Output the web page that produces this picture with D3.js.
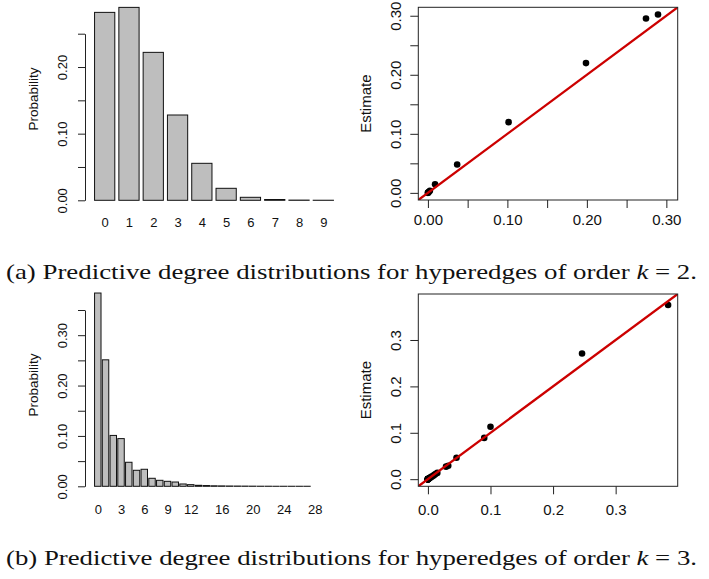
<!DOCTYPE html>
<html>
<script src="https://d3js.org/d3.v7.min.js"></script>
<style>
    body { margin: 0; background: #fff; }
    svg { display: block; }
    .rfont { font-family: "Liberation Sans", Arial, sans-serif; fill: #111; }
    .cap { font-family: "Liberation Serif", "Times New Roman", serif; font-size: 22px; fill: #111; }
</style>
<body>
<svg width="709" height="579"></svg>
<script>
    // k = 2 : predictive degree distribution (bars) and estimate vs truth (points)
    const degreesK2 = [0, 1, 2, 3, 4, 5, 6, 7, 8, 9];
    const probK2 = [0.282, 0.2895, 0.222, 0.128, 0.0555, 0.018, 0.0045, 0.0012, 0.0003, 0.0001];
    const barTicksK2 = [0, 0.05, 0.10, 0.15, 0.20, 0.25];
    const barLabelsK2 = [0, 0.10, 0.20];
    const xLabelsK2 = [0, 1, 2, 3, 4, 5, 6, 7, 8, 9];

    const trueK2 = [0.2744, 0.2895, 0.1989, 0.1015, 0.0368, 0.0090, 0.0025, 0.0010, 0.0002, 0.0000];
    const estK2 = [0.2954, 0.3022, 0.2198, 0.1198, 0.0480, 0.0147, 0.0035, 0.0015, 0.0004, 0.0000];
    const scTicksK2 = [0, 0.05, 0.10, 0.15, 0.20, 0.25, 0.30];
    const scLabelsK2 = [0, 0.10, 0.20, 0.30];

    // k = 3
    const degreesK3 = [0, 1, 2, 3, 4, 5, 6, 7, 8, 9, 10, 11, 12, 13, 14, 15, 16, 17, 18, 19, 20,
        21, 22, 23, 24, 25, 26, 27, 28, 29, 30];
    const probK3 = [0.3837, 0.2511, 0.101, 0.0947, 0.0477, 0.0318, 0.0338, 0.0159, 0.0119, 0.0099,
        0.0085, 0.0046, 0.0033, 0.0020, 0.0015, 0.0010, 0.0008, 0.0006, 0.0005, 0.0004,
        0.0003, 0.0002, 0.0002, 0.0001, 0.0001, 0.0001, 0.0001, 0.0001, 0, 0, 0];
    const barTicksK3 = [0, 0.05, 0.10, 0.15, 0.20, 0.25, 0.30, 0.35];
    const barLabelsK3 = [0, 0.10, 0.20, 0.30];
    const xLabelsK3 = [0, 3, 6, 9, 12, 16, 20, 24, 28];

    const trueK3 = [0.3838, 0.2463, 0.1000, 0.0900, 0.0457, 0.0325, 0.0290, 0.0150, 0.0120, 0.0100,
        0.0085, 0.0060, 0.0045, 0.0030, 0.0020, 0.0015, 0.0010, 0.0007, 0.0005, 0.0004,
        0.0003, 0.0002, 0.0002, 0.0001, 0.0001, 0.0001, 0, 0, 0, 0, 0];
    const estK3 = [0.3755, 0.2710, 0.1130, 0.0890, 0.0462, 0.0290, 0.0270, 0.0135, 0.0110, 0.0090,
        0.0075, 0.0055, 0.0040, 0.0028, 0.0018, 0.0012, 0.0009, 0.0006, 0.0004, 0.0003,
        0.0002, 0.0002, 0.0001, 0.0001, 0.0001, 0, 0, 0, 0, 0, 0];
    const scTicksK3 = [0, 0.1, 0.2, 0.3];
    const scLabelsK3 = [0, 0.1, 0.2, 0.3];

    const svg = d3.select("svg");

    function rotateLeftLabels(g, off) {
        g.selectAll(".tick text")
            .attr("x", null).attr("y", null)
            .attr("text-anchor", "middle")
            .attr("dy", "0.35em")
            .attr("transform", `translate(${off},0) rotate(-90)`);
    }

    // barplot like R: width 1, space 0.2
    function barPanel(opt) {
        const n = opt.probs.length;
        const lo = 0.2, hi = n * 1.2, ext = 0.04 * (hi - lo);
        const x = d3.scaleLinear().domain([lo - ext, hi + ext]).range([85, 343]);
        const y = d3.scaleLinear().domain([0, d3.max(opt.ticks)]).range([opt.y0, opt.yTop]);
        const g = svg.append("g");

        g.selectAll("rect").data(opt.probs).enter().append("rect")
            .attr("x", (d, i) => x(0.2 + 1.2 * i))
            .attr("width", (d, i) => x(1.2 * (i + 1)) - x(0.2 + 1.2 * i))
            .attr("y", d => y(d))
            .attr("height", d => y(0) - y(d))
            .attr("fill", "#bebebe")
            .attr("stroke", "#111")
            .attr("stroke-width", 1);

        const fmt = d3.format(".2f");
        g.append("g").attr("transform", "translate(85,0)")
            .call(d3.axisLeft(y).tickValues(opt.ticks).tickSize(7).tickSizeOuter(0)
                .tickFormat(d => opt.labels.some(v => Math.abs(v - d) < 1e-9) ? fmt(d) : ""))
            .call(a => a.attr("font-family", null).attr("font-size", null))
            .call(a => a.selectAll("path,line").attr("stroke", "#222"))
            .call(a => a.selectAll("text").attr("class", "rfont").style("font-size", "13px"))
            .call(a => rotateLeftLabels(a, -23));

        g.append("g").attr("transform", `translate(0,${opt.labelY})`)
            .call(d3.axisBottom(x).tickValues(opt.xLabels.map(k => 0.7 + 1.2 * opt.degrees.indexOf(k)))
                .tickSize(0).tickPadding(0)
                .tickFormat((d, i) => opt.xLabels[i]))
            .call(a => a.attr("font-family", null).attr("font-size", null))
            .call(a => a.select(".domain").remove())
            .call(a => a.selectAll("text").attr("class", "rfont").style("font-size", "13px")
                .attr("y", 0).attr("dy", "0.35em"));

        svg.append("text").attr("class", "rfont")
            .style("font-size", "13.5px")
            .attr("text-anchor", "middle")
            .attr("transform", `translate(33,${opt.titleY}) rotate(-90)`)
            .attr("dy", "0.35em")
            .text("Probability");
    }

    function scatterPanel(opt) {
        const all = opt.tx.concat(opt.ey);
        const lo = d3.min(all), hi = d3.max(all), ext = 0.04 * (hi - lo);
        const lim = [lo - ext, hi + ext];
        const left = 418.3, right = 677.7;
        const x = d3.scaleLinear().domain(lim).range([left, right]);
        const y = d3.scaleLinear().domain(lim).range([opt.bottom, opt.top]);
        const g = svg.append("g");
        const fmt = d3.format(opt.fmt);
        const lab = d => opt.labels.some(v => Math.abs(v - d) < 1e-9) ? fmt(d) : "";

        g.append("g").attr("transform", `translate(0,${opt.bottom})`)
            .call(d3.axisBottom(x).tickValues(opt.ticks).tickSize(8).tickFormat(lab))
            .call(a => a.attr("font-family", null).attr("font-size", null))
            .call(a => a.select(".domain").remove())
            .call(a => a.selectAll("line").attr("stroke", "#222"))
            .call(a => a.selectAll("text").attr("class", "rfont").style("font-size", "15px")
                .attr("y", opt.labelY - opt.bottom).attr("dy", "0.35em"));

        g.append("g").attr("transform", `translate(${left},0)`)
            .call(d3.axisLeft(y).tickValues(opt.ticks).tickSize(8).tickFormat(lab))
            .call(a => a.attr("font-family", null).attr("font-size", null))
            .call(a => a.select(".domain").remove())
            .call(a => a.selectAll("line").attr("stroke", "#222"))
            .call(a => a.selectAll("text").attr("class", "rfont").style("font-size", "15px"))
            .call(a => rotateLeftLabels(a, -23));

        const clipId = "clip" + Math.round(opt.top);
        svg.append("clipPath").attr("id", clipId).append("rect")
            .attr("x", left).attr("y", opt.top)
            .attr("width", right - left).attr("height", opt.bottom - opt.top);

        g.selectAll("circle").data(opt.tx).enter().append("circle")
            .attr("cx", d => x(d))
            .attr("cy", (d, i) => y(opt.ey[i]))
            .attr("r", 3.3)
            .attr("fill", "#000");

        g.append("line")
            .attr("clip-path", `url(#${clipId})`)
            .attr("x1", x(lim[0])).attr("y1", y(lim[0]))
            .attr("x2", x(lim[1])).attr("y2", y(lim[1]))
            .attr("stroke", "#cc0000")
            .attr("stroke-width", 2.3);

        g.append("rect")
            .attr("x", left).attr("y", opt.top)
            .attr("width", right - left).attr("height", opt.bottom - opt.top)
            .attr("fill", "none").attr("stroke", "#222").attr("stroke-width", 1);

        svg.append("text").attr("class", "rfont")
            .style("font-size", "15px")
            .attr("text-anchor", "middle")
            .attr("transform", `translate(366,${(opt.top + opt.bottom) / 2}) rotate(-90)`)
            .attr("dy", "0.35em")
            .text("Estimate");
    }

    barPanel({ probs: probK2, degrees: degreesK2, ticks: barTicksK2, labels: barLabelsK2,
        xLabels: xLabelsK2, y0: 200.3, yTop: 33.7, labelY: 222.7, titleY: 99 });
    barPanel({ probs: probK3, degrees: degreesK3, ticks: barTicksK3, labels: barLabelsK3,
        xLabels: xLabelsK3, y0: 486.3, yTop: 310, labelY: 509.3, titleY: 385 });

    scatterPanel({ tx: trueK2, ey: estK2, ticks: scTicksK2, labels: scLabelsK2, fmt: ".2f",
        top: 7.3, bottom: 200, labelY: 220 });
    scatterPanel({ tx: trueK3, ey: estK3, ticks: scTicksK3, labels: scLabelsK3, fmt: ".1f",
        top: 294, bottom: 486.3, labelY: 509.3 });

    // captions
    const captions = [
        { tag: "(a)", k: "2", y: 279 },
        { tag: "(b)", k: "3", y: 565 }
    ];
    captions.forEach(c => {
        const t = svg.append("text").attr("class", "cap")
            .attr("x", 6).attr("y", c.y)
            .attr("textLength", 691).attr("lengthAdjust", "spacingAndGlyphs");
        t.append("tspan").text(c.tag + " Predictive degree distributions for hyperedges of order ");
        t.append("tspan").attr("font-style", "italic").text("k");
        t.append("tspan").text(" = " + c.k + ".");
    });
</script>
</body>
</html>
